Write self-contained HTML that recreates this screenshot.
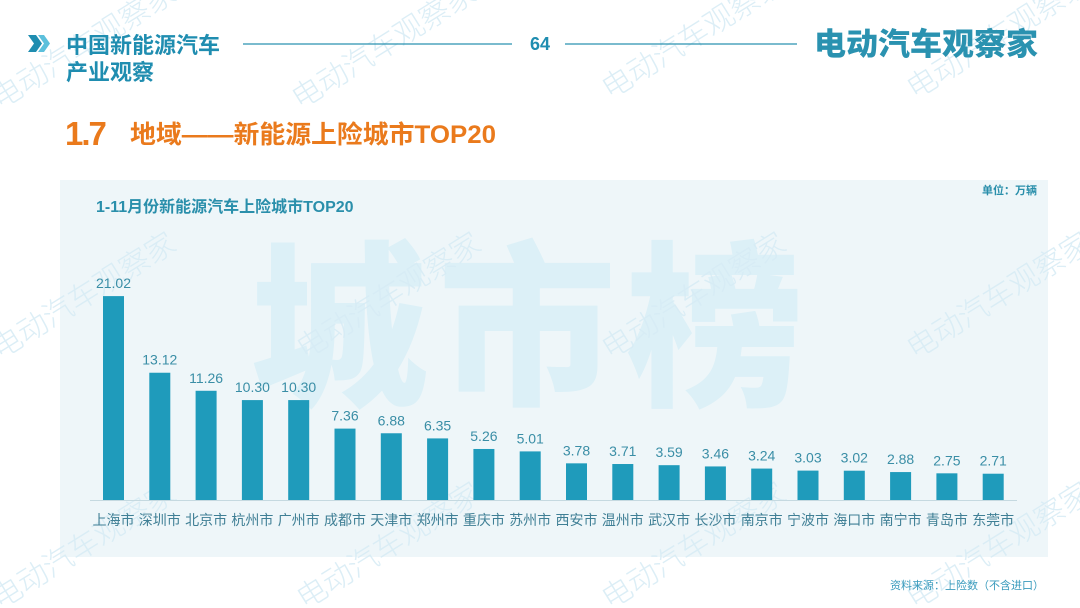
<!DOCTYPE html>
<html><head><meta charset="utf-8"><style>
body{margin:0;width:1080px;height:608px;overflow:hidden;background:#fff;font-family:"Liberation Sans","Noto Sans CJK SC",sans-serif;}
</style></head><body>
<svg width="1080" height="608" xmlns="http://www.w3.org/2000/svg" style="position:absolute;left:0;top:0">
<rect x="60" y="180" width="988" height="377" fill="#eef6f9"/>
<text x="532" y="392" text-anchor="middle" font-family="Noto Sans CJK SC,sans-serif" font-weight="900" font-size="178" fill="#dcf0f7" letter-spacing="10">城市榜</text>
<g font-family="Noto Sans CJK SC,sans-serif" font-size="30" font-weight="300" fill="#d6ebf5" opacity="0.85">
<text transform="translate(0,110) rotate(-32)">电动汽车观察家</text>
<text transform="translate(300,110) rotate(-32)">电动汽车观察家</text>
<text transform="translate(610,100) rotate(-32)">电动汽车观察家</text>
<text transform="translate(915,100) rotate(-32)">电动汽车观察家</text>
<text transform="translate(0,360) rotate(-32)">电动汽车观察家</text>
<text transform="translate(305,360) rotate(-32)">电动汽车观察家</text>
<text transform="translate(610,360) rotate(-32)">电动汽车观察家</text>
<text transform="translate(915,360) rotate(-32)">电动汽车观察家</text>
<text transform="translate(0,610) rotate(-32)">电动汽车观察家</text>
<text transform="translate(305,610) rotate(-32)">电动汽车观察家</text>
<text transform="translate(610,610) rotate(-32)">电动汽车观察家</text>
<text transform="translate(915,610) rotate(-32)">电动汽车观察家</text>
</g>
<path d="M28 35 L36 35 L42 43.5 L36 52 L28 52 L34 43.5Z" fill="#1f8db0"/>
<path d="M38 35 L44 35 L50 43.5 L44 52 L38 52 L44 43.5Z" fill="#5cc0dc"/>
<g font-family="Noto Sans CJK SC,sans-serif" font-weight="bold" fill="#1f8db0">
<text x="66" y="53" font-size="22">中国新能源汽车</text>
<text x="66" y="80" font-size="22">产业观察</text>
<text x="540" y="50" font-size="18" text-anchor="middle" font-family="Liberation Sans,sans-serif">64</text>
<text x="814" y="55" font-size="31" font-weight="900" fill="#2a92b0" textLength="224" lengthAdjust="spacingAndGlyphs">电动汽车观察家</text>
</g>
<line x1="243" y1="44" x2="512" y2="44" stroke="#2a92b0" stroke-width="1.2"/>
<line x1="565" y1="44" x2="797" y2="44" stroke="#2a92b0" stroke-width="1.2"/>
<text x="65" y="145" font-family="Liberation Sans,sans-serif" font-weight="bold" font-size="33" fill="#ea7a1c" letter-spacing="-2">1.7</text>
<text x="130" y="143" font-family="Liberation Sans,Noto Sans CJK SC,sans-serif" font-weight="bold" font-size="25" fill="#ea7a1c" textLength="366" lengthAdjust="spacingAndGlyphs">地域——新能源上险城市TOP20</text>
<text x="96" y="212" font-family="Liberation Sans,Noto Sans CJK SC,sans-serif" font-weight="bold" font-size="16" fill="#2a8fab">1-11月份新能源汽车上险城市TOP20</text>
<text x="1037" y="194" text-anchor="end" font-family="Noto Sans CJK SC,sans-serif" font-weight="bold" font-size="11" fill="#2a8fab">单位：万辆</text>
<text x="1044" y="589" text-anchor="end" font-family="Noto Sans CJK SC,sans-serif" font-size="11" fill="#3a9bbd">资料来源：上险数（不含进口）</text>
<line x1="90" y1="500.5" x2="1017" y2="500.5" stroke="#c5d9e0" stroke-width="1"/>
<g id="bars"></g>
</svg>
<script>
var d=[["上海市",21.02],["深圳市",13.12],["北京市",11.26],["杭州市",10.30],["广州市",10.30],["成都市",7.36],["天津市",6.88],["郑州市",6.35],["重庆市",5.26],["苏州市",5.01],["西安市",3.78],["温州市",3.71],["武汉市",3.59],["长沙市",3.46],["南京市",3.24],["宁波市",3.03],["海口市",3.02],["南宁市",2.88],["青岛市",2.75],["东莞市",2.71]];
var g=document.getElementById("bars"),s="";
d.forEach(function(e,i){var c=113.5+i*46.3,h=e[1]*9.7,t=500-h;
s+='<rect x="'+(c-10.5)+'" y="'+t+'" width="21" height="'+h+'" fill="#1f9bbb"/>';
s+='<text x="'+c+'" y="'+(t-8)+'" text-anchor="middle" font-family="Liberation Sans,sans-serif" font-size="14" fill="#3a8ea6">'+e[1].toFixed(2)+'</text>';
s+='<text x="'+c+'" y="525" text-anchor="middle" font-family="Noto Sans CJK SC,sans-serif" font-size="14" fill="#3f7f95">'+e[0]+'</text>';});
g.innerHTML=s;
</script>
</body></html>
